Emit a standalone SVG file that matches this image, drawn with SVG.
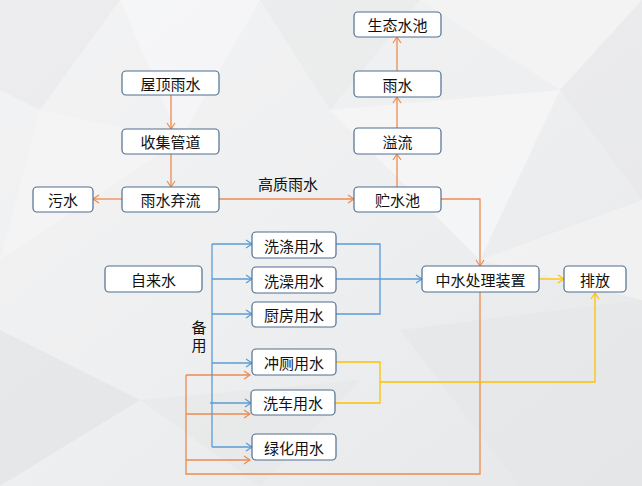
<svg xmlns="http://www.w3.org/2000/svg" width="642" height="486" viewBox="0 0 642 486">
  <defs>
    <linearGradient id="bg" x1="0" y1="0" x2="1" y2="1">
      <stop offset="0" stop-color="#f3f3f4"/>
      <stop offset="0.5" stop-color="#eeeff0"/>
      <stop offset="1" stop-color="#e6e7e8"/>
    </linearGradient>
    <marker id="ao" markerWidth="10" markerHeight="10" refX="7" refY="5" orient="auto" markerUnits="userSpaceOnUse">
      <path d="M1,1 L7,5 L1,9" fill="none" stroke="#ed8a4f" stroke-width="1.2"/>
    </marker>
    <marker id="ab" markerWidth="10" markerHeight="10" refX="7" refY="5" orient="auto" markerUnits="userSpaceOnUse">
      <path d="M1,1 L7,5 L1,9" fill="none" stroke="#5b9bd5" stroke-width="1.2"/>
    </marker>
    <marker id="ay" markerWidth="10" markerHeight="10" refX="7" refY="5" orient="auto" markerUnits="userSpaceOnUse">
      <path d="M1,1 L7,5 L1,9" fill="none" stroke="#ffc000" stroke-width="1.2"/>
    </marker>
  </defs>
  <style>
    .box { fill: #ffffff; stroke: #4f6f8f; stroke-width: 1.2; }
    .t { font-family: "Noto Sans CJK SC", "Noto Sans", sans-serif; font-size: 15px; fill: #111111; text-anchor: middle; dominant-baseline: central; }
    .v { font-family: "Noto Sans CJK SC", "Noto Sans", sans-serif; font-size: 15px; fill: #111111; text-anchor: middle; writing-mode: vertical-rl; letter-spacing: 3px; }
    .o { fill: none; stroke: #ed8a4f; stroke-width: 1.3; }
    .b { fill: none; stroke: #5b9bd5; stroke-width: 1.3; }
    .y { fill: none; stroke: #ffc000; stroke-width: 1.3; }
  </style>
  <g id="background">
    <rect x="0" y="0" width="642" height="486" fill="url(#bg)"/>
    <polygon points="0,0 120,0 40,110 0,90" fill="#e9eaeb" opacity="0.7"/>
    <polygon points="120,0 260,0 180,140" fill="#f6f6f7" opacity="0.8"/>
    <polygon points="260,0 420,0 330,110" fill="#e8e9ea" opacity="0.6"/>
    <polygon points="420,0 642,0 560,90" fill="#f4f4f5" opacity="0.8"/>
    <polygon points="560,90 642,0 642,200" fill="#e7e8e9" opacity="0.6"/>
    <polygon points="40,110 180,140 0,260" fill="#f5f5f6" opacity="0.7"/>
    <polygon points="330,110 560,90 480,260" fill="#f6f6f7" opacity="0.8"/>
    <polygon points="0,330 140,400 0,486" fill="#e3e4e5" opacity="0.7"/>
    <polygon points="140,400 360,380 260,486" fill="#e6e7e8" opacity="0.6"/>
    <polygon points="400,330 642,300 642,486 520,486" fill="#e5e6e7" opacity="0.6"/>
    <polygon points="480,260 642,200 642,300" fill="#f3f3f4" opacity="0.7"/>
  </g>
  <g id="connectors">
    <path class="o" d="M171,95 V129" marker-end="url(#ao)"/>
    <path class="o" d="M171,154 V187" marker-end="url(#ao)"/>
    <path class="o" d="M122,199 H93" marker-end="url(#ao)"/>
    <path class="o" d="M219,199 H354" marker-end="url(#ao)"/>
    <path class="o" d="M397,187 V154" marker-end="url(#ao)"/>
    <path class="o" d="M397,128 V97" marker-end="url(#ao)"/>
    <path class="o" d="M397,71 V37" marker-end="url(#ao)"/>
    <path class="o" d="M441,199 H480 V266" marker-end="url(#ao)"/>
    <path class="o" d="M480,292 V474 H186 V375"/>
    <path class="o" d="M186,375 H250" marker-end="url(#ao)"/>
    <path class="o" d="M186,414 H250" marker-end="url(#ao)"/>
    <path class="o" d="M186,460 H250" marker-end="url(#ao)"/>
    <path class="b" d="M212,244 V447"/>
    <path class="b" d="M212,244 H252" marker-end="url(#ab)"/>
    <path class="b" d="M212,279 H252" marker-end="url(#ab)"/>
    <path class="b" d="M212,314 H252" marker-end="url(#ab)"/>
    <path class="b" d="M212,363 H252" marker-end="url(#ab)"/>
    <path class="b" d="M210,403 H251" marker-end="url(#ab)"/>
    <path class="b" d="M212,447 H252" marker-end="url(#ab)"/>
    <path class="b" d="M336,244 H380 V314 H336"/>
    <path class="b" d="M336,279 H422" marker-end="url(#ab)"/>
    <path class="y" d="M539,279 H564" marker-end="url(#ay)"/>
    <path class="y" d="M336,362 H380 V403 H335"/>
    <path class="y" d="M380,382 H595 V293" marker-end="url(#ay)"/>
    <text class="t" x="288" y="183">高质雨水</text>
    <text class="v" x="199" y="338">备用</text>
  </g>
  <g id="n-shengtai"><rect class="box" x="354" y="12" width="87" height="25" rx="4"/><text class="t" x="397.5" y="24.5">生态水池</text></g>
  <g id="n-yushui"><rect class="box" x="354" y="71" width="87" height="26" rx="4"/><text class="t" x="397.5" y="84">雨水</text></g>
  <g id="n-yiliu"><rect class="box" x="354" y="128" width="87" height="26" rx="4"/><text class="t" x="397.5" y="141">溢流</text></g>
  <g id="n-zhushuichi"><rect class="box" x="354" y="187" width="87" height="25" rx="4"/><text class="t" x="397.5" y="199.5">贮水池</text></g>
  <g id="n-wuding"><rect class="box" x="122" y="71" width="97" height="24" rx="4"/><text class="t" x="170.5" y="83">屋顶雨水</text></g>
  <g id="n-shouji"><rect class="box" x="122" y="129" width="97" height="25" rx="4"/><text class="t" x="170.5" y="141.5">收集管道</text></g>
  <g id="n-qiliu"><rect class="box" x="122" y="187" width="97" height="25" rx="4"/><text class="t" x="170.5" y="199.5">雨水弃流</text></g>
  <g id="n-wushui"><rect class="box" x="33" y="187" width="60" height="25" rx="4"/><text class="t" x="63" y="199.5">污水</text></g>
  <g id="n-zilaishui"><rect class="box" x="105" y="266" width="97" height="26" rx="4"/><text class="t" x="153.5" y="279">自来水</text></g>
  <g id="n-xidi"><rect class="box" x="252" y="232" width="84" height="26" rx="4"/><text class="t" x="294" y="245">洗涤用水</text></g>
  <g id="n-xizao"><rect class="box" x="252" y="267" width="84" height="26" rx="4"/><text class="t" x="294" y="280">洗澡用水</text></g>
  <g id="n-chufang"><rect class="box" x="252" y="302" width="84" height="25" rx="4"/><text class="t" x="294" y="314.5">厨房用水</text></g>
  <g id="n-chongce"><rect class="box" x="252" y="349" width="84" height="26" rx="4"/><text class="t" x="294" y="362">冲厕用水</text></g>
  <g id="n-xiche"><rect class="box" x="251" y="390" width="84" height="25" rx="4"/><text class="t" x="293" y="402.5">洗车用水</text></g>
  <g id="n-lvhua"><rect class="box" x="252" y="434" width="84" height="26" rx="4"/><text class="t" x="294" y="447">绿化用水</text></g>
  <g id="n-zhongshui"><rect class="box" x="422" y="266" width="117" height="26" rx="4"/><text class="t" x="480.5" y="279">中水处理装置</text></g>
  <g id="n-paifang"><rect class="box" x="564" y="266" width="62" height="26" rx="4"/><text class="t" x="595" y="279">排放</text></g>
</svg>
